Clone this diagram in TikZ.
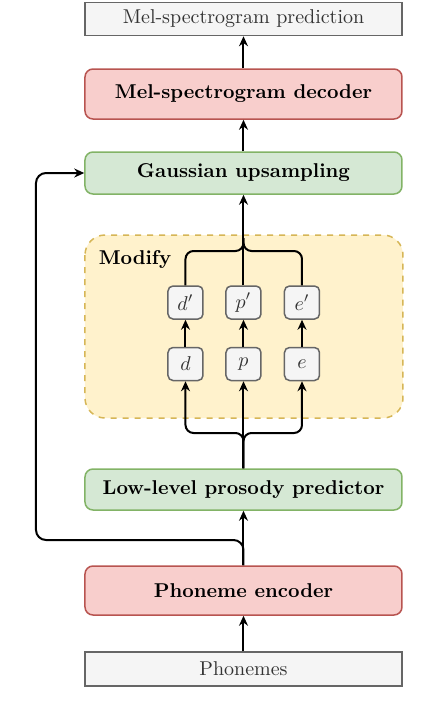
\documentclass[tikz,border=0pt]{standalone}
\usepackage{amsmath}
\usepackage{tikz}
\usetikzlibrary{arrows.meta}

\definecolor{ioFill}{HTML}{F5F5F5}
\definecolor{ioLine}{HTML}{666666}
\definecolor{ioText}{HTML}{333333}
\definecolor{redFill}{HTML}{F8CECC}
\definecolor{redLine}{HTML}{B85450}
\definecolor{greenFill}{HTML}{D5E8D4}
\definecolor{greenLine}{HTML}{82B366}
\definecolor{modFill}{HTML}{FFF2CC}
\definecolor{modLine}{HTML}{D6B656}

\tikzset{
  block/.style={draw, line width=.75pt, rounded corners=4pt, minimum width=158.5pt, font=\bfseries},
  redblock/.style={block, fill=redFill, draw=redLine},
  greenblock/.style={block, fill=greenFill, draw=greenLine},
  iobox/.style={draw=ioLine, fill=ioFill, text=ioText, line width=.75pt, minimum width=158.5pt, minimum height=16.5pt},
  featbox/.style={draw=ioLine, fill=ioFill, text=ioText, line width=.75pt, rounded corners=2.5pt, minimum width=17.5pt, minimum height=16.5pt, inner sep=0pt},
  wire/.style={line width=1pt},
  flow/.style={wire, -{Stealth[length=5pt,width=4.5pt]}}
}

\begin{document}
\begin{tikzpicture}[x=.5pt, y=-.5pt]
    \useasboundingbox (0,0) rectangle (438,720);
    % modify region
    \draw[fill=modFill, draw=modLine, line width=.75pt, dashed, rounded corners=10pt] (85,235) rectangle (403,418);
    \node[font=\bfseries] (modlabel) at (135,259) {Modify};
    % main chain
    \node[iobox] (pred) at (243.5,19) {Mel-spectrogram prediction};
    \node[redblock, minimum height=25pt] (dec) at (243.5,94) {Mel-spectrogram decoder};
    \node[greenblock, minimum height=21pt] (gauss) at (243.5,173) {Gaussian upsampling};
    \node[greenblock, minimum height=20.5pt] (low) at (243.5,489.5) {Low-level prosody predictor};
    \node[redblock, minimum height=24.5pt] (enc) at (243.5,590.5) {Phoneme encoder};
    \node[iobox, minimum height=17pt] (phon) at (243.5,669) {Phonemes};
    % prosody features
    \foreach \v/\x in {d/185.5,p/243.5,e/302} {
      \node[featbox] (\v) at (\x,364) {$\v$};
      \node[featbox] (\v2) at (\x,302.5) {$\v'$};
      \draw[flow] (\v) -- (\v2);
      \draw[flow, rounded corners=4pt] (low.north) |- (\v.south |- 0,433) -- (\v.south);
    }
    \draw[wire, rounded corners=4pt] (d2.north) |- (243.5,251) -- (243.5,238);
    \draw[wire, rounded corners=4pt] (e2.north) |- (243.5,251) -- (243.5,238);
    \draw[flow] (p2.north) -- (gauss.south);
    % connectors
    \draw[flow] (phon) -- (enc);
    \draw[flow] (enc) -- (low);
    \draw[flow, rounded corners=5pt] (enc.north) |- (36,540) |- (gauss.west);
    \draw[flow] (gauss) -- (dec);
    \draw[flow] (dec) -- (pred);
  \end{tikzpicture}
\end{document}
